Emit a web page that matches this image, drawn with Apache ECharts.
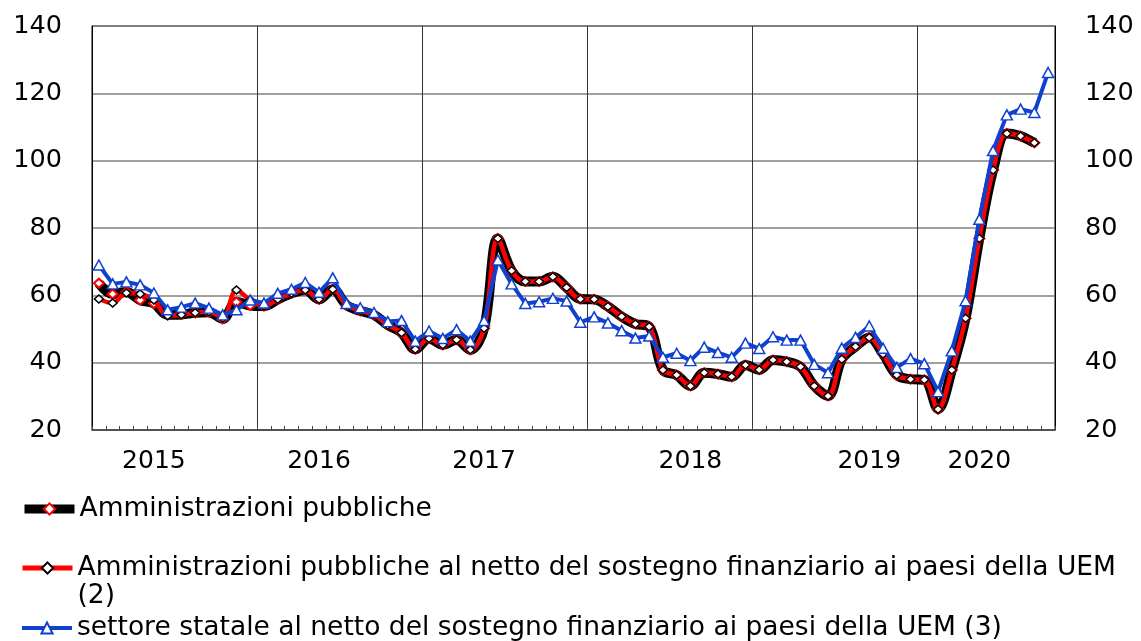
<!DOCTYPE html>
<html>
<head>
<meta charset="utf-8">
<script src="https://cdn.jsdelivr.net/npm/echarts@6/dist/echarts.min.js"></script>
<style>html,body{margin:0;padding:0;background:#fff}#c{width:1141px;height:641px}</style>
</head>
<body>
<div id="c"></div>
<script>
// Months Jan 2015 - Oct 2020
const years = [2015, 2016, 2017, 2018, 2019, 2020];
const months = [];
years.forEach(y => { for (let m = 1; m <= 12; m++) { if (months.length < 70) months.push(y + '-' + String(m).padStart(2, '0')); } });

// Year tick labels placed under these months
const yearLabels = { '2015-05': '2015', '2016-05': '2016', '2017-05': '2017', '2018-08': '2018', '2019-09': '2019', '2020-05': '2020' };

const seriesNames = [
  'Amministrazioni pubbliche',
  'Amministrazioni pubbliche al netto del sostegno finanziario ai paesi della UEM (2)',
  'settore statale al netto del sostegno finanziario ai paesi della UEM (3)'
];

// Amministrazioni pubbliche
const totalPA = [63.6, 60.4, 61.0, 58.6, 57.6, 54.2, 54.3, 54.8, 55.0, 53.0, 58.0, 57.0,
  56.8, 58.8, 60.6, 61.6, 58.8, 61.8, 57.1, 55.4, 54.2, 51.2, 48.9, 44.0,
  47.2, 45.3, 46.8, 43.8, 50.2, 76.9, 67.3, 64.1, 64.1, 65.5, 62.3, 58.9,
  58.8, 56.7, 53.7, 51.5, 50.7, 37.8, 36.3, 33.1, 37.0, 36.6, 35.8, 39.3,
  37.9, 40.8, 40.3, 38.8, 33.1, 30.1, 41.0, 44.8, 47.5, 42.6, 36.3, 35.1,
  34.9, 26.2, 37.8, 53.2, 76.9, 97.2, 108.1, 107.3, 105.3, null];

// Amministrazioni pubbliche al netto del sostegno UEM
const netPA = [58.9, 57.7, 60.7, 60.4, 58.6, 53.9, 54.2, 54.8, 55.1, 53.3, 61.6, 58.6,
  56.8, 58.8, 60.6, 61.6, 58.8, 61.8, 57.1, 55.4, 54.2, 51.2, 48.9, 44.0,
  47.2, 45.3, 46.8, 43.8, 50.2, 76.9, 67.3, 64.1, 64.1, 65.5, 62.3, 58.9,
  58.8, 56.7, 53.7, 51.5, 50.7, 37.8, 36.3, 33.1, 37.0, 36.6, 35.8, 39.3,
  37.9, 40.8, 40.3, 38.8, 33.1, 30.1, 41.0, 44.8, 47.5, 42.6, 36.3, 35.1,
  34.9, 26.2, 37.8, 53.2, 76.9, 97.2, 108.1, 107.3, 105.3, null];

// Settore statale al netto del sostegno UEM
const netState = [69.0, 63.4, 64.0, 63.1, 60.7, 55.7, 56.5, 57.7, 56.2, 54.2, 55.7, 58.6,
  57.7, 60.6, 61.8, 63.8, 60.9, 65.2, 57.6, 56.3, 54.9, 52.2, 52.5, 46.4,
  49.4, 47.2, 49.8, 46.4, 52.5, 70.5, 63.4, 57.6, 58.1, 59.1, 58.3, 52.0,
  53.6, 51.8, 49.5, 47.3, 47.9, 41.6, 42.8, 40.6, 44.6, 43.0, 41.6, 45.8,
  44.2, 47.7, 46.7, 46.7, 39.5, 37.0, 44.3, 47.5, 50.9, 44.3, 38.6, 41.2,
  39.7, 31.4, 43.5, 58.4, 82.6, 103.0, 113.6, 115.3, 114.3, 126.2];

const FONT = 'DejaVu Sans';
const yAxisBase = {
  type: 'value', min: 20, max: 140, interval: 20,
  axisLine: { show: true, lineStyle: { color: '#000', width: 1 } },
  axisTick: { show: false },
  axisLabel: { color: '#000', fontFamily: FONT, fontSize: 25.5, margin: 30 }
};

const legendBase = {
  orient: 'vertical', left: 20, padding: 0, itemWidth: 50, itemHeight: 14,
  textStyle: { color: '#000', fontFamily: FONT, fontSize: 26.5, lineHeight: 28 }
};

const chart = echarts.init(document.getElementById('c'));
chart.setOption({
  animation: false,
  backgroundColor: '#fff',
  grid: { left: 92, right: 86, top: 26, bottom: 211, show: true, borderColor: '#000', borderWidth: 1, outerBoundsMode: 'none' },
  xAxis: {
    type: 'category', data: months, boundaryGap: true,
    axisLine: { show: true, lineStyle: { color: '#444', width: 1.5 } },
    axisTick: { show: true, inside: true, length: 4, interval: 0, lineStyle: { color: '#444' } },
    axisLabel: {
      interval: (i, v) => v in yearLabels,
      formatter: v => yearLabels[v] || '',
      color: '#000', fontFamily: FONT, fontSize: 25, margin: 19
    },
    splitLine: { show: true, interval: (i) => i % 12 === 0, lineStyle: { color: '#333', width: 1 } }
  },
  yAxis: [
    Object.assign({}, yAxisBase, { position: 'left', splitLine: { show: true, lineStyle: { color: '#808080', width: 1.5 } } }),
    Object.assign({}, yAxisBase, { position: 'right', splitLine: { show: false } })
  ],
  legend: [
    Object.assign({}, legendBase, { top: 495, data: [{ name: seriesNames[0], lineStyle: { color: '#000', width: 9 } }] }),
    Object.assign({}, legendBase, { top: 526, data: [{ name: seriesNames[1], lineStyle: { color: '#ff0000', width: 5 } }],
      formatter: n => ' \n' + n.replace(' (2)', '\n(2)') }),
    Object.assign({}, legendBase, { top: 614, data: [{ name: seriesNames[2], lineStyle: { color: '#1040d0', width: 4 } }] })
  ],
  series: [
    {
      name: seriesNames[0], type: 'line', data: totalPA, smooth: 0.35, z: 2,
      showAllSymbol: true, symbol: 'diamond', symbolSize: [10, 9],
      lineStyle: { color: '#000', width: 10 },
      itemStyle: { color: '#fff', borderColor: '#ff0000', borderWidth: 2 }
    },
    {
      name: seriesNames[1], type: 'line', data: netPA, smooth: 0.35, z: 3,
      showAllSymbol: true, symbol: 'diamond', symbolSize: [9, 8],
      lineStyle: { color: '#ff0000', width: 4.5 },
      itemStyle: { color: '#fff', borderColor: '#000', borderWidth: 1.5 }
    },
    {
      name: seriesNames[2], type: 'line', data: netState, smooth: false, z: 4,
      showAllSymbol: true, symbol: 'triangle', symbolSize: [11, 10],
      lineStyle: { color: '#1040d0', width: 4 },
      itemStyle: { color: '#fff', borderColor: '#1040d0', borderWidth: 1.5 }
    }
  ]
});
</script>
</body>
</html>
